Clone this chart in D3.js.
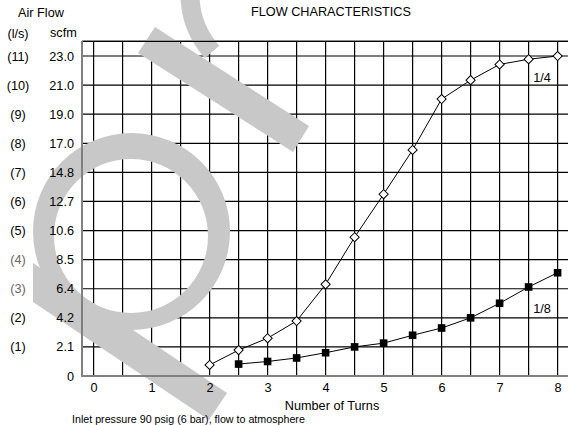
<!DOCTYPE html>
<html>
<head>
<meta charset="utf-8">
<script src="https://cdn.jsdelivr.net/npm/d3@7.9.0/dist/d3.min.js"></script>
<style>
  body { margin: 0; background: #fff; }
  svg { display: block; font-family: 'Liberation Sans', Arial, sans-serif; }
</style>
</head>
<body>
<svg width="568" height="425"></svg>
<script>
// turns (x) and air flow in l/s (y)
const turnsQuarter = [2, 2.5, 3, 3.5, 4, 4.5, 5, 5.5, 6, 6.5, 7, 7.5, 8];
const flowQuarter = [0.38, 0.89, 1.30, 1.89, 3.15, 4.77, 6.25, 7.77, 9.52, 10.17, 10.71, 10.89, 11.0];
const turnsEighth = [2.5, 3, 3.5, 4, 4.5, 5, 5.5, 6, 6.5, 7, 7.5, 8];
const flowEighth = [0.41, 0.50, 0.62, 0.80, 1.0, 1.13, 1.40, 1.65, 2.0, 2.50, 3.06, 3.55];

const lpsTicks = [0, 1, 2, 3, 4, 5, 6, 7, 8, 9, 10, 11];
const scfmLabels = ['0', '2.1', '4.2', '6.4', '8.5', '10.6', '12.7', '14.8', '17.0', '19.0', '21.0', '23.0'];
const lpsLabels = ['', '(1)', '(2)', '(3)', '(4)', '(5)', '(6)', '(7)', '(8)', '(9)', '(10)', '(11)'];
const greyLps = [3, 4];
const turnTicks = d3.range(0, 8.01, 0.5);

const svg = d3.select('svg');
const left = 82, bottom = 376;
const fs = 12.7;

let x = d3.scaleLinear().domain([-0.2, 8.2]).range([left, left + 8.4 * 58]);
let y = d3.scaleLinear().domain([0, 11.5]).range([bottom, bottom - 11.5 * 29.09]);
const w = x(8.2) - left, h = bottom - y(11.5);

// grid
let grid = svg.append('g');
grid.selectAll('line.v')
    .data(turnTicks)
    .join('line')
    .attr('x1', d => x(d)).attr('x2', d => x(d))
    .attr('y1', y(11.5)).attr('y2', bottom)
    .attr('stroke', '#000').attr('stroke-width', 1.2);
grid.selectAll('line.h')
    .data(lpsTicks.slice(1).concat([11.5]))
    .join('line')
    .attr('x1', left).attr('x2', left + w)
    .attr('y1', d => y(d)).attr('y2', d => y(d))
    .attr('stroke', '#000').attr('stroke-width', 1.2);

// grey brush mark over the grid
let mark = svg.append('g').attr('fill', '#c8c8c8');
mark.append('path')
    .attr('fill-rule', 'evenodd')
    .attr('d', 'M33,231.5a98.5,98.5 0 1,0 197,0a98.5,98.5 0 1,0 -197,0Z' +
               'M54,236a77,77 0 1,0 154,0a77,77 0 1,0 -154,0Z');
mark.append('path').attr('d', 'M33,263L227,393L209,420L33,302Z');
mark.append('path').attr('d', 'M155,27L309,126L293,152L138,53Z');
mark.append('path')
    .attr('d', 'M190,-3Q191,28 212,52')
    .attr('fill', 'none').attr('stroke', '#c8c8c8').attr('stroke-width', 19);

// axes
let xAxis = d3.axisBottom(x)
    .tickValues(d3.range(0, 9))
    .tickSize(0).tickPadding(7)
    .tickFormat(d3.format('d'));
let gx = svg.append('g').attr('transform', `translate(0,${bottom})`).call(xAxis);
gx.select('.domain').remove();

let yAxis = d3.axisLeft(y)
    .tickValues(lpsTicks)
    .tickSize(0).tickPadding(8)
    .tickFormat((d, i) => scfmLabels[i]);
let gy = svg.append('g').attr('transform', `translate(${left},0)`).call(yAxis);
gy.select('.domain').remove();

svg.selectAll('.tick text')
    .attr('font-size', fs)
    .attr('font-family', "'Liberation Sans', Arial, sans-serif")
    .attr('fill', '#000');

svg.append('g').selectAll('text')
    .data(lpsTicks.slice(1))
    .join('text')
    .attr('x', 18).attr('y', d => y(d) + 4.5)
    .attr('text-anchor', 'middle').attr('font-size', fs)
    .attr('fill', d => greyLps.includes(d) ? '#666' : '#000')
    .text(d => lpsLabels[d]);

// frame
svg.append('line').attr('x1', left).attr('x2', left + w).attr('y1', y(11.5)).attr('y2', y(11.5))
    .attr('stroke', '#000').attr('stroke-width', 1.3);
svg.append('line').attr('x1', left).attr('x2', left).attr('y1', y(11.5) - 0.5).attr('y2', bottom + 1)
    .attr('stroke', '#808080').attr('stroke-width', 2);
svg.append('line').attr('x1', left - 1).attr('x2', left + w).attr('y1', bottom).attr('y2', bottom)
    .attr('stroke', '#808080').attr('stroke-width', 2);

// series
let line = d3.line().x(d => x(d[0])).y(d => y(d[1]));
let quarter = d3.zip(turnsQuarter, flowQuarter);
let eighth = d3.zip(turnsEighth, flowEighth);

svg.append('path').datum(quarter).attr('d', line)
    .attr('fill', 'none').attr('stroke', '#000').attr('stroke-width', 1);
svg.append('path').datum(eighth).attr('d', line)
    .attr('fill', 'none').attr('stroke', '#000').attr('stroke-width', 1);

let diamond = d3.symbol().type(d3.symbolSquare).size(42);
svg.append('g').selectAll('path')
    .data(quarter)
    .join('path')
    .attr('d', diamond)
    .attr('transform', d => `translate(${x(d[0])},${y(d[1])}) rotate(45)`)
    .attr('fill', '#fff').attr('stroke', '#000').attr('stroke-width', 1);

svg.append('g').selectAll('rect')
    .data(eighth)
    .join('rect')
    .attr('x', d => x(d[0]) - 3.8).attr('y', d => y(d[1]) - 3.8)
    .attr('width', 7.6).attr('height', 7.6)
    .attr('fill', '#000');

// labels
const texts = [
    { t: 'FLOW CHARACTERISTICS', x: 331, y: 16, a: 'middle', s: fs },
    { t: 'Air Flow', x: 41, y: 17, a: 'middle', s: fs },
    { t: '(l/s)', x: 18, y: 38, a: 'middle', s: fs },
    { t: 'scfm', x: 50, y: 37, a: 'start', s: fs },
    { t: 'Number of Turns', x: 332, y: 410, a: 'middle', s: fs },
    { t: 'Inlet pressure 90 psig (6 bar), flow to atmosphere', x: 72, y: 423, a: 'start', s: 10.7 },
    { t: '1/4', x: 542, y: 82, a: 'middle', s: fs },
    { t: '1/8', x: 542, y: 313, a: 'middle', s: fs },
];
svg.append('g').selectAll('text')
    .data(texts)
    .join('text')
    .attr('x', d => d.x).attr('y', d => d.y)
    .attr('text-anchor', d => d.a).attr('font-size', d => d.s)
    .attr('fill', '#000')
    .text(d => d.t);
</script>
</body>
</html>
